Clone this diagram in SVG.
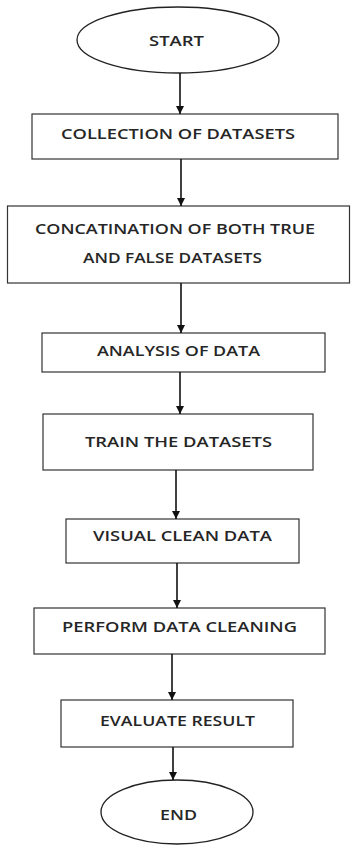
<svg xmlns="http://www.w3.org/2000/svg" width="351" height="845" viewBox="0 0 351 845">
  <style>
    .box { fill: #ffffff; stroke: #333333; stroke-width: 1.2; }
    .term { fill: #ffffff; stroke: #222222; stroke-width: 1.3; }
    .lbl { font-family: "Open Sans", "Noto Sans", "Liberation Sans", sans-serif; font-size: 13.5px; font-weight: 600; fill: #262626; }
    .flow { stroke: #111111; stroke-width: 1.6; fill: none; marker-end: url(#arrowhead); }
  </style>
  <defs>
    <marker id="arrowhead" viewBox="0 0 10 10" refX="10" refY="5" markerWidth="8" markerHeight="8" markerUnits="userSpaceOnUse" orient="auto">
      <path d="M0,0 L10,5 L0,10 z" fill="#111111"/>
    </marker>
  </defs>
  <rect width="351" height="845" fill="#ffffff"/>

  <g id="start">
    <ellipse class="term" cx="178" cy="40" rx="101" ry="33"/>
    <text class="lbl" x="149" y="46" textLength="55" lengthAdjust="spacingAndGlyphs">START</text>
  </g>

  <g id="collection">
    <rect class="box" x="32" y="114" width="306" height="45"/>
    <text class="lbl" x="61" y="139" textLength="234" lengthAdjust="spacingAndGlyphs">COLLECTION OF DATASETS</text>
  </g>

  <g id="concatenation">
    <rect class="box" x="7.5" y="206" width="342" height="77"/>
    <text class="lbl" x="35" y="234" textLength="280" lengthAdjust="spacingAndGlyphs">CONCATINATION OF BOTH TRUE</text>
    <text class="lbl" x="83" y="263" textLength="179" lengthAdjust="spacingAndGlyphs">AND FALSE DATASETS</text>
  </g>

  <g id="analysis">
    <rect class="box" x="42" y="333" width="283" height="39"/>
    <text class="lbl" x="97" y="356" textLength="163" lengthAdjust="spacingAndGlyphs">ANALYSIS OF DATA</text>
  </g>

  <g id="train">
    <rect class="box" x="43" y="414" width="270" height="56"/>
    <text class="lbl" x="85" y="447" textLength="187" lengthAdjust="spacingAndGlyphs">TRAIN THE DATASETS</text>
  </g>

  <g id="visual">
    <rect class="box" x="66" y="519" width="233" height="44"/>
    <text class="lbl" x="93" y="541" textLength="179" lengthAdjust="spacingAndGlyphs">VISUAL CLEAN DATA</text>
  </g>

  <g id="cleaning">
    <rect class="box" x="34" y="608" width="291" height="46"/>
    <text class="lbl" x="62" y="632" textLength="235" lengthAdjust="spacingAndGlyphs">PERFORM DATA CLEANING</text>
  </g>

  <g id="evaluate">
    <rect class="box" x="61" y="700" width="232" height="47"/>
    <text class="lbl" x="100" y="726" textLength="155" lengthAdjust="spacingAndGlyphs">EVALUATE RESULT</text>
  </g>

  <g id="end">
    <ellipse class="term" cx="177" cy="812" rx="76" ry="32"/>
    <text class="lbl" x="160" y="820" textLength="37" lengthAdjust="spacingAndGlyphs">END</text>
  </g>

  <g id="connectors">
    <line class="flow" x1="180" y1="73" x2="180" y2="114"/>
    <line class="flow" x1="181" y1="159" x2="181" y2="206"/>
    <line class="flow" x1="181" y1="283" x2="181" y2="333"/>
    <line class="flow" x1="180" y1="372" x2="180" y2="414"/>
    <line class="flow" x1="176" y1="470" x2="176" y2="519"/>
    <line class="flow" x1="177" y1="563" x2="177" y2="608"/>
    <line class="flow" x1="172" y1="654" x2="172" y2="700"/>
    <line class="flow" x1="173" y1="747" x2="173" y2="780"/>
  </g>
</svg>
